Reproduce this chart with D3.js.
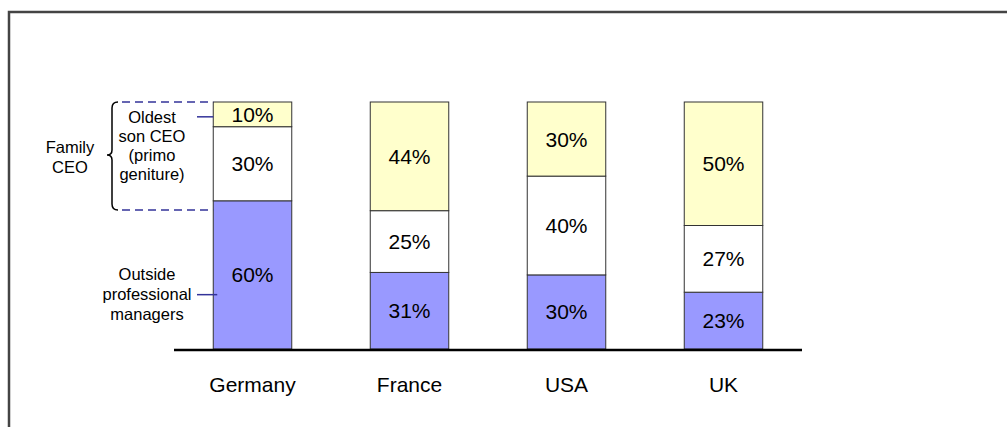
<!DOCTYPE html>
<html>
<head>
    <title>CEO succession by country</title>
    <script src="https://d3js.org/d3.v7.min.js"></script>
    <style>
        body {
            margin: 0;
            padding: 0;
            background: #fff;
            font-family: Arial, "Liberation Sans", sans-serif;
        }
        #chart {
            width: 1007px;
            height: 427px;
        }
        .seg {
            stroke: #333;
            stroke-width: 1;
        }
        .pct {
            font-size: 21px;
            fill: #000;
        }
        .cat {
            font-size: 21px;
            fill: #000;
        }
        .note {
            font-size: 16.5px;
            fill: #000;
        }
    </style>
</head>
<body>
    <div id="chart"></div>

    <script>
        // Data
        const countries = ['Germany', 'France', 'USA', 'UK'];
        const outsideManagers = [60, 31, 30, 23];
        const familyOther = [30, 25, 40, 27];
        const oldestSon = [10, 44, 30, 50];

        const seriesKeys = ['outside', 'family', 'oldest'];
        const seriesColors = {outside: '#9999ff', family: '#ffffff', oldest: '#ffffcc'};

        const rows = countries.map((c, i) => ({
            country: c,
            outside: outsideManagers[i],
            family: familyOther[i],
            oldest: oldestSon[i]
        }));

        const width = 1007;
        const height = 427;

        const svg = d3.select('#chart')
            .append('svg')
            .attr('width', width)
            .attr('height', height);

        // Outer frame (runs off the right and bottom edges)
        svg.append('rect')
            .attr('x', 9)
            .attr('y', 12)
            .attr('width', width + 20)
            .attr('height', height + 20)
            .attr('fill', 'none')
            .attr('stroke', '#444')
            .attr('stroke-width', 2.5);

        // Scales
        const x = d3.scaleBand()
            .domain(countries)
            .range([174, 802])
            .paddingInner(0.5)
            .paddingOuter(0.25);

        const y = d3.scaleLinear()
            .domain([0, 100])
            .range([349, 102]);

        const stacked = d3.stack().keys(seriesKeys)(rows);

        // Bars
        const layers = svg.selectAll('g.layer')
            .data(stacked)
            .enter()
            .append('g')
            .attr('class', 'layer')
            .attr('fill', d => seriesColors[d.key]);

        layers.selectAll('rect')
            .data(d => d)
            .enter()
            .append('rect')
            .attr('class', 'seg')
            .attr('x', d => x(d.data.country))
            .attr('y', d => y(d[1]))
            .attr('width', x.bandwidth())
            .attr('height', d => y(d[0]) - y(d[1]));

        // Percent labels
        layers.selectAll('text')
            .data(d => d)
            .enter()
            .append('text')
            .attr('class', 'pct')
            .attr('x', d => x(d.data.country) + x.bandwidth() / 2)
            .attr('y', d => (y(d[0]) + y(d[1])) / 2)
            .attr('text-anchor', 'middle')
            .attr('dominant-baseline', 'central')
            .text(d => (d[1] - d[0]) + '%');

        // Baseline
        svg.append('line')
            .attr('x1', 174)
            .attr('x2', 802)
            .attr('y1', y(0) + 1)
            .attr('y2', y(0) + 1)
            .attr('stroke', '#000')
            .attr('stroke-width', 2.5);

        // Category labels
        svg.selectAll('text.cat')
            .data(countries)
            .enter()
            .append('text')
            .attr('class', 'cat')
            .attr('x', d => x(d) + x.bandwidth() / 2)
            .attr('y', 384)
            .attr('text-anchor', 'middle')
            .attr('dominant-baseline', 'central')
            .text(d => d);

        // Annotations around the Germany bar
        const gx = x('Germany');
        const navy = '#333399';
        // the bracket in the original runs a little below the 60% mark
        const braceTop = y(100), braceBottom = y(56.3);

        // dashed guides
        [braceTop, braceBottom].forEach(py => {
            svg.append('line')
                .attr('x1', 122)
                .attr('x2', gx)
                .attr('y1', py)
                .attr('y2', py)
                .attr('stroke', navy)
                .attr('stroke-width', 1.5)
                .attr('stroke-dasharray', '8,5');
        });

        // curly brace
        const bt = braceTop, bb = braceBottom, bm = 155;
        const bx = 112;
        svg.append('path')
            .attr('d', `M${bx + 6},${bt} Q${bx},${bt} ${bx},${bt + 6} L${bx},${bm - 5} Q${bx},${bm} ${bx - 5},${bm} ` +
                `Q${bx},${bm} ${bx},${bm + 5} L${bx},${bb - 6} Q${bx},${bb} ${bx + 6},${bb}`)
            .attr('fill', 'none')
            .attr('stroke', '#000')
            .attr('stroke-width', 1.5);

        // connectors
        svg.append('line')
            .attr('x1', 197).attr('x2', gx)
            .attr('y1', y(94)).attr('y2', y(94))
            .attr('stroke', navy).attr('stroke-width', 1.5);

        svg.append('line')
            .attr('x1', 197).attr('x2', gx + 4)
            .attr('y1', y(22)).attr('y2', y(22))
            .attr('stroke', navy).attr('stroke-width', 1.5);

        function noteBlock(lines, cx, cy0, step) {
            svg.append('text')
                .attr('class', 'note')
                .attr('text-anchor', 'middle')
                .selectAll('tspan')
                .data(lines)
                .enter()
                .append('tspan')
                .attr('x', cx)
                .attr('y', (d, i) => cy0 + i * step)
                .attr('dominant-baseline', 'central')
                .text(d => d);
        }

        noteBlock(['Family', 'CEO'], 70, 147, 20);
        noteBlock(['Oldest', 'son CEO', '(primo', 'geniture)'], 152, 117, 19);
        noteBlock(['Outside', 'professional', 'managers'], 147, 274, 20);
    </script>
</body>
</html>
